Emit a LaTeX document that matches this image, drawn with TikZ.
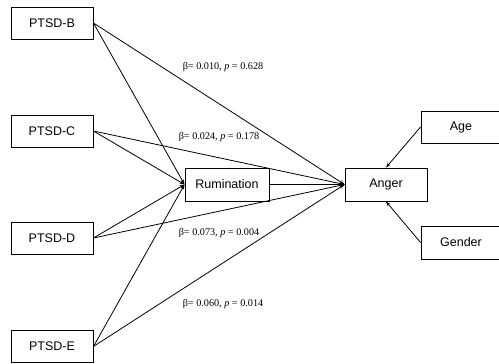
\documentclass[tikz,border=0pt]{standalone}
\usepackage{fontspec}
\setmainfont{Liberation Serif}
\newfontfamily\boxfont{Liberation Sans}
\usetikzlibrary{arrows.meta}
\begin{document}
\begin{tikzpicture}[x=1pt,y=-1pt,
  box/.style={draw,line width=0.9pt,rectangle,inner sep=0pt,font=\boxfont\fontsize{12.5}{14}\selectfont},
  path/.style={line width=0.8pt,-{Stealth[length=5pt,width=3.5pt]}},
  lbl/.style={font=\fontsize{10.2}{12}\selectfont,inner sep=0pt}]
\useasboundingbox (0,0) rectangle (499,364);
\fill[white] (0,0) rectangle (499,364);
\node[box,minimum width=82pt,minimum height=32pt] (B) at (52,23) {PTSD-B};
\node[box,minimum width=82pt,minimum height=32pt] (C) at (52,131) {PTSD-C};
\node[box,minimum width=82pt,minimum height=32pt] (D) at (52,238) {PTSD-D};
\node[box,minimum width=82pt,minimum height=32pt] (E) at (52,346.5) {PTSD-E};
\node[box,minimum width=84pt,minimum height=33pt] (R) at (227,184.5) {Rumination};
\node[box,minimum width=82pt,minimum height=33pt] (A) at (386,184.5) {Anger};
\node[box,minimum width=80pt,minimum height=32pt] (G) at (461,127) {Age};
\node[box,minimum width=80pt,minimum height=33pt] (S) at (461,242.5) {Gender};
\foreach \n in {B,C,D,E}{
  \draw[path] (\n.east) -- (R.west);
  \draw[path] (\n.east) -- (A.west);
}
\draw[path] (R.east) -- (A.west);
\draw[path] (G.west) -- (A.north);
\draw[path] (S.west) -- (A.south);
\node[lbl] (l1) at (223,67) {β= 0.010, \textit{p} = 0.628};
\node[lbl] (l2) at (219,137) {β= 0.024, \textit{p} = 0.178};
\node[lbl] (l3) at (219,233) {β= 0.073, \textit{p} = 0.004};
\node[lbl] (l4) at (223,304) {β= 0.060, \textit{p} = 0.014};
\end{tikzpicture}
\end{document}
